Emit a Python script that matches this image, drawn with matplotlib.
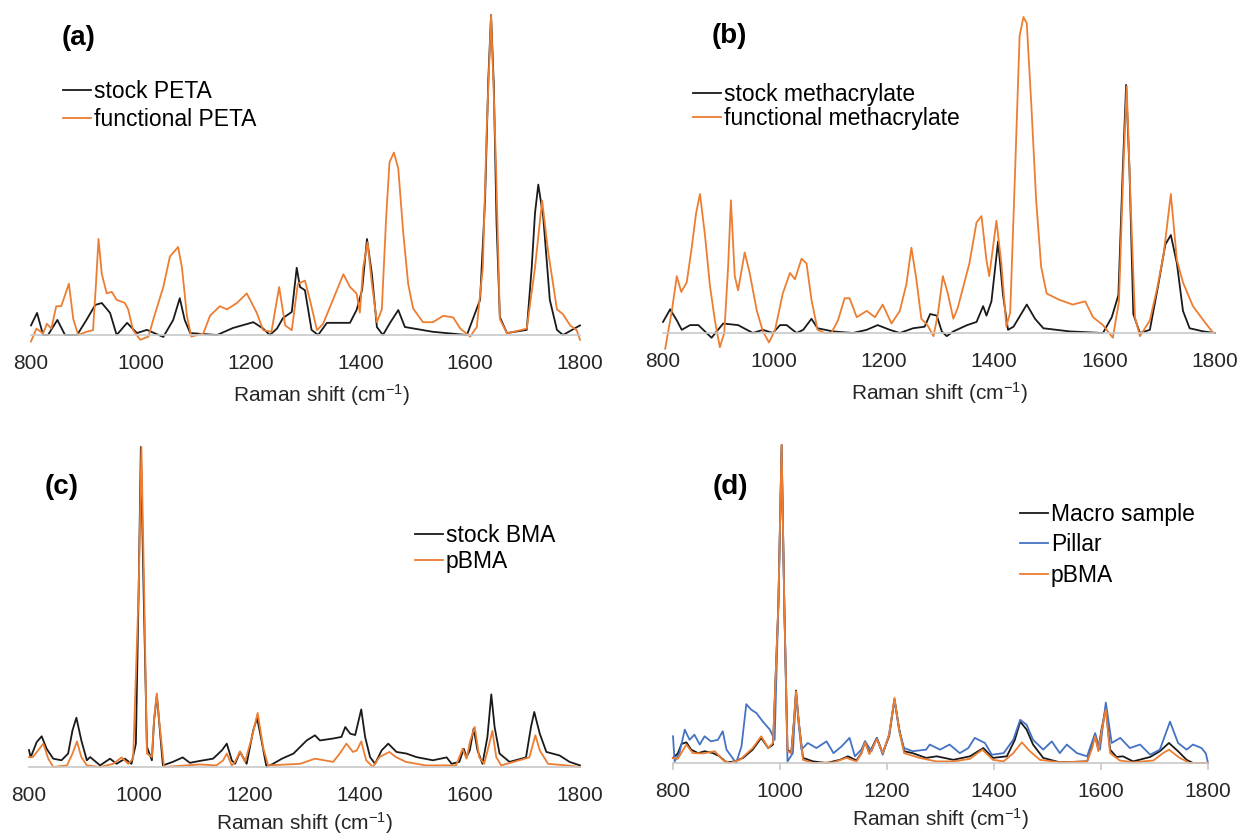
import numpy as np
import matplotlib
matplotlib.use("Agg")
import matplotlib.pyplot as plt

plt.rcParams["font.family"] = ["Liberation Sans", "DejaVu Sans"]
plt.rcParams["mathtext.fontset"] = "custom"
plt.rcParams["mathtext.rm"] = "Liberation Sans"
plt.rcParams["mathtext.default"] = "regular"

# Raman spectra, normalised intensity: (shift cm-1, intensity)
a_stock = [(800, 0.03), (811, 0.069), (822, 0.0), (831, 0.0), (848, 0.047), (862, 0.0), (884, 0.0),
           (901, 0.047), (917, 0.094), (929, 0.1), (944, 0.069), (956, 0.0), (975, 0.038), (993, 0.006),
           (1011, 0.016), (1041, -0.006), (1059, 0.047), (1071, 0.115), (1080, 0.047), (1090, 0.006),
           (1139, 0.0), (1168, 0.022), (1205, 0.04), (1223, 0.02), (1235, 0.0), (1248, 0.02), (1259, 0.053),
           (1275, 0.072), (1284, 0.21), (1290, 0.15), (1299, 0.14), (1311, 0.016), (1323, 0.0), (1339, 0.038),
           (1381, 0.038), (1393, 0.078), (1403, 0.14), (1412, 0.3), (1421, 0.19), (1430, 0.025), (1441, 0.0),
           (1454, 0.038), (1469, 0.078), (1481, 0.025), (1532, 0.01), (1594, 0.0), (1618, 0.11), (1627, 0.42),
           (1633, 0.8), (1638, 1.0), (1643, 0.78), (1648, 0.35), (1654, 0.056), (1667, 0.006), (1703, 0.016),
           (1712, 0.21), (1718, 0.38), (1724, 0.47), (1733, 0.37), (1745, 0.11), (1758, 0.016), (1769, 0.0),
           (1800, 0.03)]
a_func = [(800, -0.02), (810, 0.02), (822, 0.005), (829, 0.035), (837, 0.02), (846, 0.09), (855, 0.09),
          (869, 0.16), (877, 0.05), (886, 0.0), (901, 0.01), (913, 0.015), (918, 0.15), (923, 0.3), (929, 0.19),
          (938, 0.13), (947, 0.135), (956, 0.11), (971, 0.1), (977, 0.08), (986, 0.015), (999, -0.015),
          (1014, -0.005), (1023, 0.05), (1041, 0.15), (1053, 0.245), (1068, 0.275), (1075, 0.21), (1084, 0.06),
          (1092, -0.005), (1114, 0.005), (1126, 0.06), (1144, 0.09), (1157, 0.08), (1175, 0.1), (1193, 0.13),
          (1211, 0.07), (1223, 0.015), (1238, 0.01), (1252, 0.15), (1263, 0.03), (1275, 0.015), (1286, 0.16),
          (1299, 0.17), (1308, 0.11), (1321, 0.015), (1332, 0.035), (1350, 0.11), (1369, 0.19), (1381, 0.15),
          (1393, 0.13), (1399, 0.07), (1405, 0.21), (1413, 0.29), (1421, 0.16), (1430, 0.04), (1439, 0.08),
          (1447, 0.37), (1453, 0.54), (1461, 0.57), (1469, 0.52), (1478, 0.32), (1487, 0.16), (1496, 0.083),
          (1514, 0.04), (1532, 0.04), (1551, 0.06), (1569, 0.055), (1582, 0.02), (1600, -0.005), (1612, 0.025),
          (1623, 0.21), (1630, 0.64), (1638, 1.0), (1643, 0.75), (1647, 0.53), (1654, 0.05), (1667, 0.005),
          (1703, 0.02), (1718, 0.21), (1731, 0.42), (1742, 0.26), (1758, 0.08), (1769, 0.065), (1782, 0.03),
          (1794, 0.015), (1800, -0.015)]

b_stock = [(800, 0.035), (813, 0.075), (825, 0.04), (834, 0.01), (849, 0.025), (864, 0.025), (876, 0.005),
           (888, -0.015), (909, 0.03), (936, 0.025), (963, 0.0), (981, 0.01), (999, 0.0), (1012, 0.025),
           (1024, 0.025), (1042, 0.0), (1054, 0.01), (1069, 0.045), (1080, 0.015), (1108, 0.005), (1144, 0.0),
           (1169, 0.01), (1189, 0.025), (1211, 0.01), (1229, 0.0), (1253, 0.015), (1274, 0.02), (1284, 0.06),
           (1296, 0.055), (1305, 0.005), (1314, -0.01), (1326, 0.005), (1351, 0.025), (1368, 0.035),
           (1380, 0.085), (1386, 0.055), (1395, 0.1), (1407, 0.29), (1416, 0.12), (1425, 0.01), (1435, 0.02),
           (1459, 0.09), (1474, 0.045), (1489, 0.015), (1537, 0.005), (1597, 0.0), (1613, 0.05), (1625, 0.12),
           (1633, 0.52), (1639, 0.785), (1645, 0.52), (1652, 0.06), (1664, 0.0), (1682, 0.01), (1697, 0.15),
           (1710, 0.28), (1720, 0.31), (1731, 0.22), (1742, 0.07), (1754, 0.015), (1779, 0.005), (1800, 0.0)]
b_func = [(804, -0.05), (816, 0.07), (825, 0.18), (833, 0.13), (843, 0.16), (852, 0.27), (860, 0.38),
          (867, 0.44), (876, 0.31), (885, 0.15), (894, 0.04), (903, -0.045), (911, 0.0), (918, 0.21),
          (923, 0.42), (930, 0.18), (936, 0.135), (948, 0.255), (957, 0.19), (970, 0.07), (981, 0.005),
          (992, -0.03), (1003, 0.01), (1017, 0.125), (1030, 0.19), (1039, 0.17), (1051, 0.235), (1060, 0.22),
          (1069, 0.105), (1080, 0.01), (1093, 0.0), (1105, 0.0), (1117, 0.04), (1129, 0.11), (1138, 0.11),
          (1151, 0.05), (1169, 0.07), (1184, 0.05), (1198, 0.09), (1214, 0.03), (1229, 0.07), (1241, 0.155),
          (1250, 0.27), (1259, 0.17), (1268, 0.045), (1279, 0.025), (1290, -0.01), (1298, 0.06), (1307, 0.18),
          (1316, 0.125), (1326, 0.045), (1334, 0.08), (1355, 0.22), (1368, 0.35), (1377, 0.37), (1386, 0.23),
          (1391, 0.18), (1397, 0.26), (1404, 0.355), (1413, 0.22), (1422, 0.02), (1429, 0.065), (1438, 0.52),
          (1446, 0.94), (1453, 1.0), (1459, 0.98), (1467, 0.73), (1476, 0.42), (1485, 0.21), (1495, 0.125),
          (1518, 0.105), (1542, 0.09), (1565, 0.1), (1579, 0.05), (1597, 0.025), (1615, -0.015), (1626, 0.1),
          (1634, 0.52), (1640, 0.78), (1647, 0.42), (1655, 0.05), (1664, -0.01), (1682, 0.04), (1695, 0.14),
          (1707, 0.25), (1720, 0.44), (1731, 0.23), (1742, 0.16), (1760, 0.085), (1779, 0.04), (1797, 0.0)]

c_stock = [(800, 0.053), (803, 0.03), (814, 0.078), (823, 0.096), (832, 0.057), (844, 0.026), (859, 0.021),
           (871, 0.042), (879, 0.115), (886, 0.154), (895, 0.083), (905, 0.021), (911, 0.031), (929, 0.005),
           (947, 0.026), (959, 0.01), (974, 0.026), (986, 0.01), (994, 0.073), (999, 0.55), (1003, 1.0),
           (1008, 0.55), (1014, 0.063), (1023, 0.021), (1027, 0.146), (1032, 0.224), (1036, 0.146),
           (1043, 0.005), (1061, 0.016), (1079, 0.03), (1092, 0.013), (1110, 0.019), (1134, 0.026),
           (1150, 0.052), (1159, 0.073), (1168, 0.021), (1174, 0.01), (1183, 0.047), (1195, 0.01),
           (1207, 0.115), (1214, 0.153), (1222, 0.083), (1231, 0.0), (1243, 0.01), (1259, 0.026), (1280, 0.042),
           (1304, 0.083), (1319, 0.099), (1328, 0.083), (1352, 0.089), (1367, 0.094), (1374, 0.125),
           (1383, 0.104), (1392, 0.1), (1403, 0.18), (1410, 0.094), (1419, 0.031), (1428, 0.01), (1440, 0.052),
           (1452, 0.073), (1467, 0.047), (1485, 0.042), (1503, 0.031), (1533, 0.021), (1558, 0.03),
           (1567, 0.01), (1581, 0.016), (1589, 0.057), (1594, 0.031), (1600, 0.052), (1607, 0.12),
           (1614, 0.052), (1623, 0.01), (1632, 0.094), (1639, 0.227), (1645, 0.125), (1654, 0.042),
           (1672, 0.016), (1702, 0.03), (1711, 0.125), (1717, 0.172), (1727, 0.104), (1739, 0.047),
           (1763, 0.036), (1781, 0.016), (1800, 0.005)]
c_pbma = [(800, 0.031), (807, 0.031), (826, 0.073), (835, 0.026), (844, 0.0), (869, 0.005), (879, 0.042),
          (887, 0.08), (895, 0.031), (905, 0.005), (929, 0.0), (953, 0.01), (968, 0.03), (980, 0.01),
          (989, 0.026), (999, 0.55), (1004, 1.0), (1009, 0.55), (1014, 0.042), (1023, 0.031), (1027, 0.15),
          (1032, 0.23), (1036, 0.15), (1045, 0.0), (1110, 0.008), (1140, 0.005), (1152, 0.02), (1159, 0.042),
          (1168, 0.005), (1174, 0.016), (1183, 0.049), (1192, 0.016), (1204, 0.09), (1215, 0.169),
          (1225, 0.06), (1234, 0.005), (1292, 0.01), (1319, 0.026), (1352, 0.016), (1364, 0.042),
          (1376, 0.073), (1388, 0.047), (1395, 0.052), (1403, 0.08), (1412, 0.021), (1424, 0.0), (1436, 0.031),
          (1454, 0.047), (1466, 0.031), (1484, 0.016), (1520, 0.005), (1575, 0.005), (1587, 0.057),
          (1594, 0.026), (1601, 0.083), (1609, 0.125), (1617, 0.031), (1626, 0.01), (1634, 0.063),
          (1641, 0.113), (1648, 0.031), (1657, 0.005), (1708, 0.03), (1719, 0.099), (1727, 0.052),
          (1742, 0.01), (1776, 0.005), (1800, 0.0)]

d_macro = [(800, 0.016), (809, 0.03), (816, 0.06), (825, 0.065), (834, 0.042), (847, 0.031), (859, 0.037),
           (875, 0.031), (887, 0.021), (900, 0.002), (915, 0.005), (931, 0.016), (949, 0.042), (965, 0.079),
           (978, 0.047), (987, 0.058), (997, 0.5), (1003, 1.0), (1008, 0.5), (1014, 0.042), (1021, 0.031),
           (1026, 0.13), (1030, 0.228), (1035, 0.13), (1043, 0.016), (1062, 0.005), (1087, 0.0), (1112, 0.01),
           (1127, 0.021), (1143, 0.008), (1152, 0.031), (1159, 0.068), (1167, 0.031), (1181, 0.079),
           (1192, 0.031), (1204, 0.085), (1214, 0.2), (1223, 0.105), (1232, 0.037), (1248, 0.031),
           (1273, 0.016), (1293, 0.021), (1324, 0.01), (1355, 0.021), (1380, 0.047), (1398, 0.016),
           (1424, 0.021), (1439, 0.073), (1449, 0.13), (1461, 0.105), (1473, 0.058), (1492, 0.016),
           (1523, 0.002), (1574, 0.005), (1583, 0.052), (1589, 0.089), (1595, 0.042), (1601, 0.105),
           (1609, 0.173), (1617, 0.042), (1629, 0.019), (1641, 0.021), (1660, 0.005), (1692, 0.019),
           (1710, 0.037), (1727, 0.063), (1744, 0.037), (1760, 0.01), (1772, 0.0), (1800, 0.0)]
d_pillar = [(800, 0.084), (803, 0.005), (812, 0.031), (822, 0.105), (831, 0.073), (840, 0.089), (850, 0.058),
            (859, 0.084), (871, 0.068), (884, 0.073), (893, 0.1), (900, 0.042), (909, 0.021), (918, 0.0),
            (928, 0.052), (937, 0.185), (946, 0.168), (956, 0.157), (968, 0.13), (981, 0.105), (990, 0.073),
            (997, 0.5), (1003, 0.98), (1008, 0.5), (1014, 0.005), (1024, 0.031), (1030, 0.22), (1035, 0.12),
            (1040, 0.042), (1052, 0.063), (1068, 0.047), (1087, 0.068), (1100, 0.031), (1115, 0.052),
            (1130, 0.079), (1140, 0.021), (1152, 0.042), (1159, 0.068), (1171, 0.037), (1181, 0.079),
            (1192, 0.026), (1204, 0.09), (1214, 0.2), (1223, 0.1), (1232, 0.047), (1248, 0.037), (1273, 0.042),
            (1280, 0.058), (1299, 0.042), (1317, 0.058), (1336, 0.031), (1352, 0.047), (1364, 0.079),
            (1383, 0.063), (1396, 0.026), (1418, 0.031), (1436, 0.073), (1449, 0.136), (1461, 0.12),
            (1473, 0.073), (1492, 0.042), (1508, 0.068), (1523, 0.031), (1536, 0.058), (1555, 0.031),
            (1574, 0.021), (1589, 0.094), (1598, 0.042), (1609, 0.19), (1620, 0.063), (1636, 0.079),
            (1654, 0.047), (1673, 0.058), (1692, 0.026), (1710, 0.042), (1729, 0.13), (1744, 0.063),
            (1760, 0.042), (1772, 0.058), (1788, 0.047), (1796, 0.03), (1800, 0.0)]
d_pbma = [(800, 0.016), (809, 0.013), (825, 0.058), (837, 0.031), (856, 0.03), (878, 0.037), (893, 0.01),
          (906, 0.0), (925, 0.01), (949, 0.047), (965, 0.084), (978, 0.047), (987, 0.063), (997, 0.5),
          (1003, 1.0), (1008, 0.5), (1014, 0.037), (1021, 0.031), (1026, 0.13), (1030, 0.225), (1035, 0.13),
          (1043, 0.01), (1062, 0.0), (1100, 0.002), (1124, 0.016), (1143, 0.005), (1152, 0.03), (1159, 0.065),
          (1167, 0.028), (1181, 0.075), (1192, 0.031), (1204, 0.09), (1214, 0.205), (1223, 0.1), (1232, 0.031),
          (1261, 0.016), (1292, 0.005), (1324, 0.005), (1355, 0.013), (1378, 0.042), (1398, 0.01),
          (1418, 0.005), (1436, 0.031), (1452, 0.065), (1467, 0.037), (1486, 0.01), (1523, 0.002),
          (1574, 0.005), (1583, 0.045), (1589, 0.084), (1595, 0.037), (1601, 0.1), (1609, 0.168),
          (1617, 0.031), (1635, 0.008), (1660, 0.002), (1698, 0.008), (1715, 0.03), (1727, 0.042),
          (1747, 0.016), (1766, 0.0), (1800, 0.0)]

BLACK = "#1a1a1a"
ORANGE = "#ED7D31"
BLUE = "#4472C4"
W, H = 1242, 835

# panel geometry in pixels: left, right (800 / 1800), y of zero, y of 1.0
panels = {
    "a": (31, 580, 335, 15),
    "b": (663, 1215, 333, 17),
    "c": (29, 580, 767, 447),
    "d": (673, 1208, 763, 445),
}
YLO, YHI = -0.07, 1.02

fig = plt.figure(figsize=(W / 100, H / 100), dpi=100)


def make_axes(key, labelpad=6):
    l, r, y0, y1 = panels[key]
    s = y0 - y1
    bot = y0 - YLO * s
    top = y0 - YHI * s
    ax = fig.add_axes([l / W, 1 - bot / H, (r - l) / W, (bot - top) / H])
    ax.set_xlim(800, 1800)
    ax.set_ylim(YLO, YHI)
    ax.patch.set_alpha(0)
    for side in ("top", "right", "left"):
        ax.spines[side].set_visible(False)
    ax.spines["bottom"].set_position(("data", 0))
    ax.spines["bottom"].set_color("#c8c8c8")
    ax.spines["bottom"].set_linewidth(1.2)
    ax.set_yticks([])
    ax.set_xticks([800, 1000, 1200, 1400, 1600, 1800])
    ax.tick_params(axis="x", length=0, pad=14, labelsize=15, labelcolor="#262626")
    ax.set_xlabel("Raman shift (cm$^{-1}$)", fontsize=15, color="#262626", labelpad=labelpad)
    return ax


def draw(ax, pts, color, label):
    arr = np.array(pts, dtype=float)
    ax.plot(arr[:, 0], arr[:, 1], color=color, lw=1.3, label=label, clip_on=False)


def legend(ax, x, y, spacing):
    ax.legend(loc="upper left", bbox_to_anchor=(x / W, 1 - y / H), bbox_transform=fig.transFigure,
              frameon=False, fontsize=16.5, handlelength=1.2, handletextpad=0.15, borderpad=0,
              borderaxespad=0, labelspacing=spacing)


ax_a = make_axes("a")
draw(ax_a, a_stock, BLACK, "stock PETA")
draw(ax_a, a_func, ORANGE, "functional PETA")
legend(ax_a, 63, 80, 0.2)
ax_a.xaxis.label.set_x(0.53)

ax_b = make_axes("b")
draw(ax_b, b_stock, BLACK, "stock methacrylate")
draw(ax_b, b_func, ORANGE, "functional methacrylate")
legend(ax_b, 693, 83, 0.05)

ax_c = make_axes("c", labelpad=3)
draw(ax_c, c_stock, BLACK, "stock BMA")
draw(ax_c, c_pbma, ORANGE, "pBMA")
legend(ax_c, 415, 524, 0.15)

ax_d = make_axes("d", labelpad=3)
draw(ax_d, d_macro, BLACK, "Macro sample")
draw(ax_d, d_pillar, BLUE, "Pillar")
draw(ax_d, d_pbma, ORANGE, "pBMA")
legend(ax_d, 1020, 503, 0.32)
ax_d.tick_params(axis="x", length=5, width=1.2, color="#c8c8c8", pad=9)

for txt, x, y in [("(a)", 62, 38), ("(b)", 712, 36), ("(c)", 45, 487), ("(d)", 713, 487)]:
    fig.text(x / W, 1 - y / H, txt, fontsize=20, fontweight="bold", ha="left", va="center")

fig.savefig("out.png", dpi=100)
